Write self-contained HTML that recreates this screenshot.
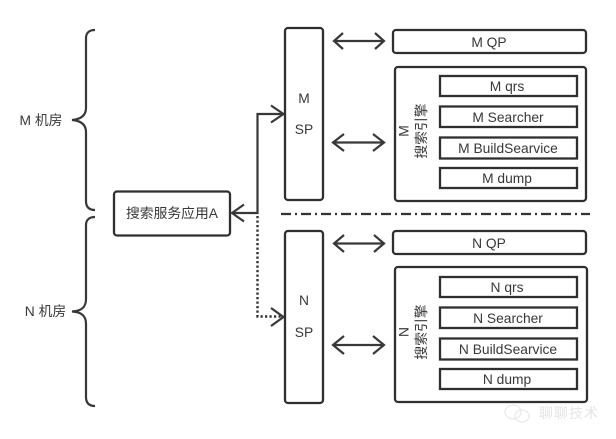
<!DOCTYPE html>
<html>
<head>
<meta charset="utf-8">
<style>
html,body{margin:0;padding:0;background:#fff;width:616px;height:439px;overflow:hidden}
svg{display:block}
text{font-family:"Liberation Sans","Noto Sans CJK SC",sans-serif;fill:#383838;font-size:13px;text-anchor:middle}
.t{font-size:13.8px}
.b{fill:#fff;stroke:#2f2f2f;stroke-width:2.300}
.l{fill:none;stroke:#383838;stroke-width:2.200}
.a{fill:none;stroke:#333}
</style>
</head>
<body>
<svg width="616" height="439" viewBox="0 0 616 439" xmlns="http://www.w3.org/2000/svg">
<!-- braces -->
<path class="l" d="M95 30C89 30 86 33 86 38V108C86 114 83 119 72 120C83 121 86 126 86 132V201C86 207 89 210 95 210"/>
<path class="l" d="M95 217C89 217 86 220 86 225V299C86 306 83 311 72 311.500C83 312 86 317 86 324V397C86 403 89 406 95 406"/>
<text class="t" x="41" y="125">M 机房</text>
<text class="t" x="45.500" y="316">N 机房</text>

<!-- app -->
<rect class="b" x="114" y="191.500" width="116" height="44" rx="3"/>
<text class="t" x="172" y="218">搜索服务应用A</text>

<!-- connectors -->
<path class="l" d="M232 213H257.500V114H283"/>
<path class="l" d="M244 204.500L232 213L244 221.500"/>
<path class="l" d="M271 105.500L283.500 114L271 122.500"/>
<path class="a" stroke-dasharray="2.200 2.300" d="M257.500 216V316.500H283" style="stroke-width:2.400"/>
<path class="l" d="M271 308L283.500 317L271 326"/>

<!-- divider -->
<path class="a" stroke-dasharray="10 4 2 4" d="M281 214H590" style="stroke-width:2.200"/>

<!-- SP -->
<rect class="b" x="285" y="28" width="38" height="172" rx="3"/>
<rect class="b" x="285" y="231" width="38" height="172" rx="3"/>
<text class="t" x="304" y="103">M</text>
<text class="t" x="304" y="134">SP</text>
<text class="t" x="304" y="305">N</text>
<text class="t" x="304" y="337">SP</text>

<!-- double arrows -->
<path class="l" d="M334 41H384M343 33L334 41L343 49M375 33L384 41L375 49"/>
<path class="l" d="M333 142.500H384M344 134L333 142.500L344 151M373 134L384 142.500L373 151"/>
<path class="l" d="M334 243.500H384M344 235L334 243.500L344 252M374 235L384 243.500L374 252"/>
<path class="l" d="M333 345H384M344 336L333 345L344 354M373 336L384 345L373 354"/>

<!-- QP -->
<rect class="b" x="393" y="30" width="193" height="23" rx="3"/>
<rect class="b" x="393" y="231" width="193" height="23" rx="3"/>
<text class="t" x="489" y="47">M QP</text>
<text class="t" x="489" y="248">N QP</text>

<!-- engines -->
<rect class="b" x="395" y="67" width="191" height="134" rx="3"/>
<rect class="b" x="395" y="267" width="192" height="135" rx="3"/>

<text class="t" transform="translate(408.500,131) rotate(-90)">M</text>
<text class="t" transform="translate(426,131) rotate(-90)">搜索引擎</text>
<text class="t" transform="translate(408.500,332) rotate(-90)">N</text>
<text class="t" transform="translate(426,332) rotate(-90)">搜索引擎</text>

<!-- inner M -->
<rect class="b" x="440" y="76" width="137" height="20"/>
<rect class="b" x="440" y="106.500" width="137" height="20.500"/>
<rect class="b" x="440" y="137.500" width="137" height="21"/>
<rect class="b" x="440" y="168" width="137" height="20"/>
<text class="t" x="507" y="91">M qrs</text>
<text class="t" x="508" y="122">M Searcher</text>
<text class="t" x="508" y="153">M BuildSearvice</text>
<text class="t" x="507" y="183">M dump</text>

<!-- inner N -->
<rect class="b" x="440" y="277" width="137" height="20"/>
<rect class="b" x="440" y="307.500" width="137" height="20.500"/>
<rect class="b" x="440" y="338.500" width="137" height="21"/>
<rect class="b" x="440" y="369" width="137" height="20"/>
<text class="t" x="507" y="292">N qrs</text>
<text class="t" x="508" y="323">N Searcher</text>
<text class="t" x="508" y="354">N BuildSearvice</text>
<text class="t" x="507" y="384">N dump</text>

<!-- watermark -->
<ellipse cx="513" cy="412" rx="8" ry="7" fill="none" stroke="#ececec" stroke-width="1.500"/>
<ellipse cx="522" cy="416" rx="7" ry="6" fill="none" stroke="#ececec" stroke-width="1.500"/>
<text x="569" y="418" style="font-size:14px;fill:#e4e4e4;letter-spacing:1px">聊聊技术</text>
</svg>
</body>
</html>
